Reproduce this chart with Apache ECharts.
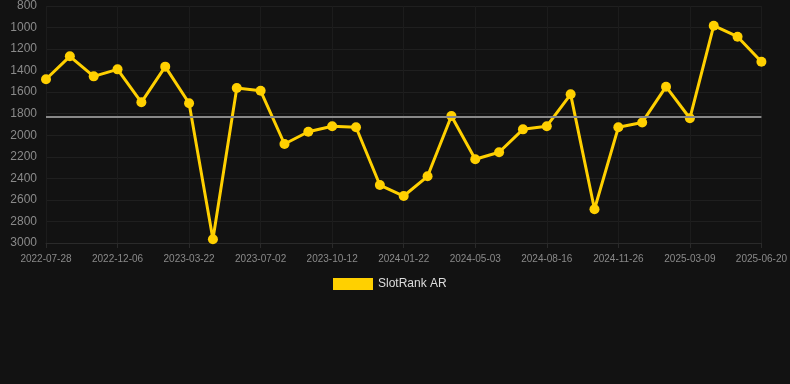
<!DOCTYPE html>
<html>
<head>
<meta charset="utf-8">
<script src="https://cdn.jsdelivr.net/npm/echarts@6/dist/echarts.min.js"></script>
<style>
html,body{margin:0;padding:0;background:#121212;}
#chart{width:790px;height:384px;}
</style>
</head>
<body>
<div id="chart"></div>
<script>
const categories = [
  '2022-07-28','2022-09-10','2022-10-23','2022-12-06','2023-01-10','2023-02-14',
  '2023-03-22','2023-04-25','2023-05-29','2023-07-02','2023-08-05','2023-09-08',
  '2023-10-12','2023-11-15','2023-12-19','2024-01-22','2024-02-25','2024-03-30',
  '2024-05-03','2024-06-06','2024-07-11','2024-08-16','2024-09-25','2024-10-16',
  '2024-11-26','2024-12-30','2025-02-03','2025-03-09','2025-04-12','2025-05-16',
  '2025-06-20'
];
const rankValues = [
  1480,1267,1453,1388,1694,1363,1703,2966,1561,1587,2081,1967,1917,1926,2462,
  2564,2381,1821,2223,2158,1945,1916,1620,2687,1926,1881,1549,1842,983,1085,1317
];
const seriesName = 'SlotRank AR';
const yMin = 800, yMax = 3000, yStep = 200;

const chart = echarts.init(document.getElementById('chart'), null, {renderer:'canvas'});
chart.setOption({
  backgroundColor: '#121212',
  animation: false,
  grid: {left: 46, right: 28, top: 6, bottom: 141},
  legend: {
    data: [seriesName],
    top: 273,
    left: 328,
    itemWidth: 40,
    itemHeight: 12,
    icon: 'rect',
    itemGap: 10,
    textStyle: {color: '#dddddd', fontSize: 12, fontFamily: 'Liberation Sans, Arial, sans-serif'}
  },
  xAxis: {
    type: 'category',
    data: categories,
    boundaryGap: false,
    axisLine: {show: true, lineStyle: {color: '#2a2a2a'}},
    axisTick: {show: true, interval: 2, lineStyle: {color: '#2a2a2a'}},
    axisLabel: {interval: 2, color: '#8a8a8a', fontSize: 10, margin: 11, fontFamily: 'Liberation Sans, Arial, sans-serif'},
    splitLine: {show: true, interval: 2, lineStyle: {color: '#1c1c1c'}}
  },
  yAxis: {
    type: 'value',
    inverse: true,
    min: yMin, max: yMax, interval: yStep,
    axisLine: {show: false},
    axisTick: {show: false},
    axisLabel: {color: '#8a8a8a', fontSize: 12, margin: 9, fontFamily: 'Liberation Sans, Arial, sans-serif', formatter: v => String(v)},
    splitLine: {show: true, lineStyle: {color: '#1f1f1f'}}
  },
  series: [{
    name: seriesName,
    type: 'line',
    data: rankValues,
    color: '#FFD000',
    symbol: 'circle',
    symbolSize: 10,
    lineStyle: {width: 3, color: '#FFD000'},
    itemStyle: {color: '#FFD000'},
    markLine: {
      silent: true,
      symbol: 'none',
      label: {show: false},
      lineStyle: {color: '#888888', width: 2, type: 'solid'},
      data: [{type: 'average'}]
    }
  }]
});
</script>
</body>
</html>
